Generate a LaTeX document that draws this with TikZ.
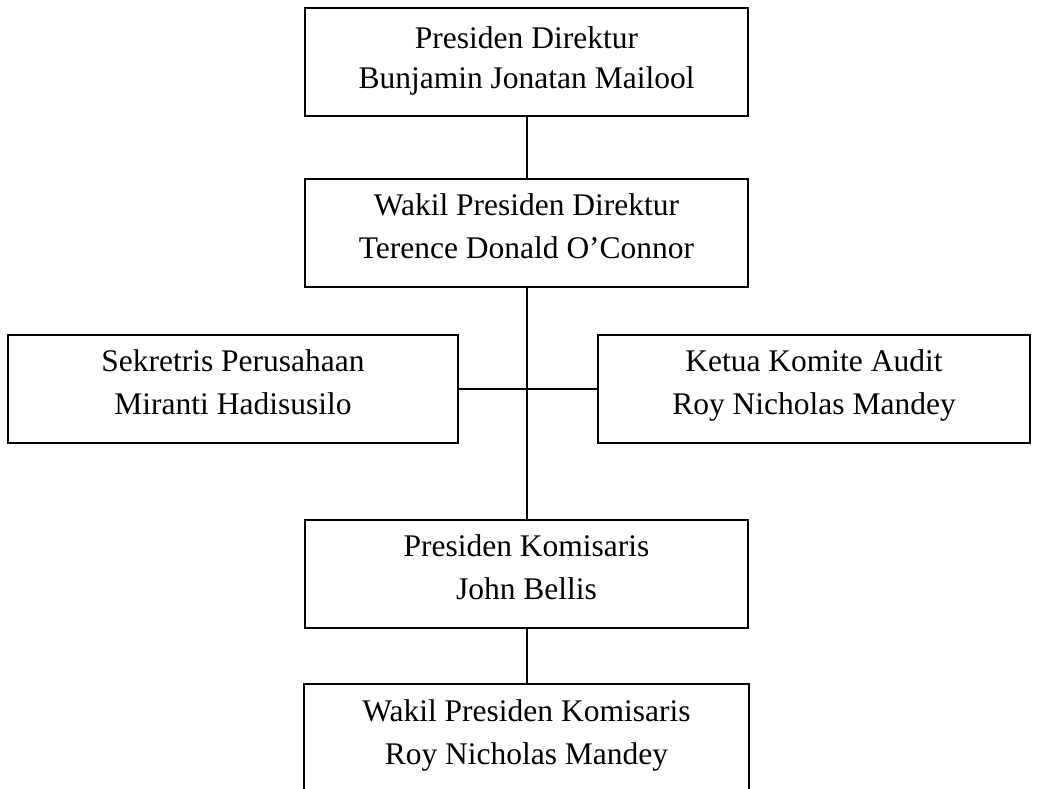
\documentclass[tikz,border=0pt]{standalone}
\usepackage{fontspec}
\setmainfont{Liberation Serif}
% struts that fix the height of the first line and the depth of the last one
\newcommand\firstln[1][22pt]{\rule{0pt}{#1}}
\newcommand\lastln{\rule[-14pt]{0pt}{14pt}}
\begin{document}
\begin{tikzpicture}[x=1pt,y=-1pt,
  orgbox/.style={draw,line width=2pt,minimum width=443pt,minimum height=108pt,
    align=center,font=\fontsize{31.5}{43}\selectfont,inner sep=0pt},
  link/.style={line width=2pt}]
  \useasboundingbox (0,0) rectangle (1038,788);
  \node[orgbox,font=\fontsize{31.5}{40}\selectfont] (pd) at (526.5,62)
    {\firstln[26pt]Presiden Direktur\\Bunjamin Jonatan Mailool\lastln};
  \node[orgbox] (wpd) at (526.5,232.5)
    {\firstln Wakil Presiden Direktur\\Terence Donald O’Connor\lastln};
  \node[orgbox,minimum width=450pt] (sek) at (233,388.5)
    {\firstln Sekretris Perusahaan\\Miranti Hadisusilo\lastln};
  \node[orgbox,minimum width=432pt] (kka) at (814,388.5)
    {\firstln Ketua Komite Audit\\Roy Nicholas Mandey\lastln};
  \node[orgbox] (pk) at (526.5,573.5)
    {\firstln Presiden Komisaris\\John Bellis\lastln};
  % lowest box runs off the lower edge: only its top and sides are drawn
  \node[orgbox,draw=none] (wpk) at (526.5,739)
    {\firstln Wakil Presiden Komisaris\\Roy Nicholas Mandey\lastln};
  \draw[link] (wpk.south west) -- (wpk.north west) -- (wpk.north east) -- (wpk.south east);
  \draw[link] (pd) -- (wpd);
  \draw[link] (wpd) -- (pk);
  \draw[link] (sek) -- (kka);
  \draw[link] (pk) -- (wpk.north);
\end{tikzpicture}
\end{document}
